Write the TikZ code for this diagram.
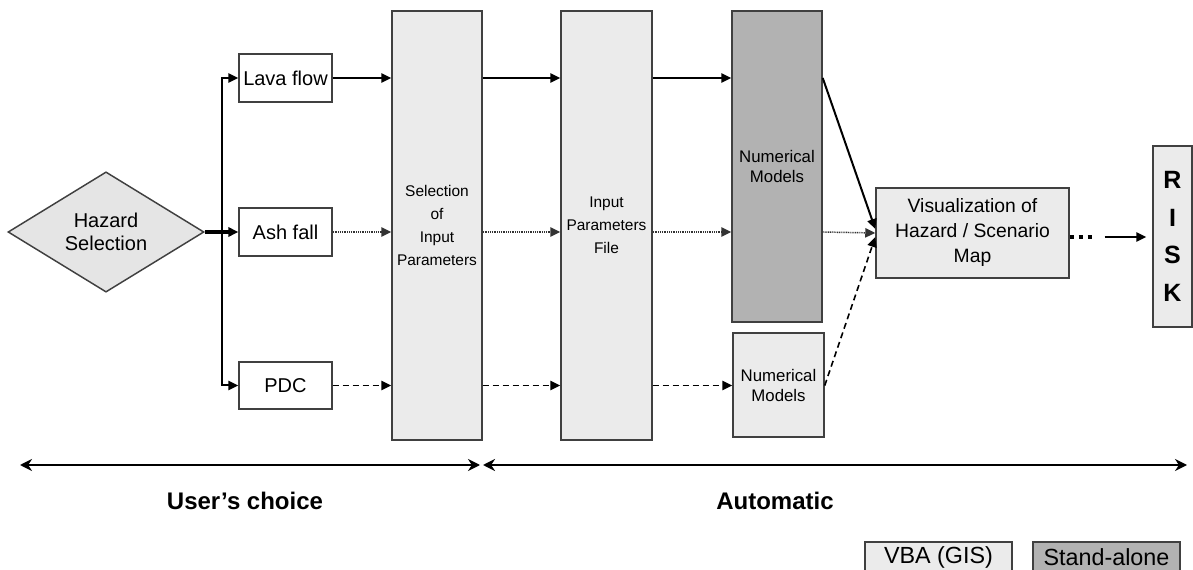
\documentclass[tikz,border=0pt]{standalone}
\usepackage{fontspec}
\setmainfont{Liberation Sans}
\usetikzlibrary{arrows.meta,shapes.geometric,calc}
\begin{document}
\begin{tikzpicture}[x=0.75pt,y=-0.75pt,
  bx/.style={draw=black!75, line width=1.1pt, fill=black!8, inner sep=0pt, align=center},
  wbx/.style={bx, fill=white},
  dbx/.style={bx, fill=black!30},
  txa/.style={font=\fontsize{15}{17.5}\selectfont},
  txb/.style={font=\fontsize{11.6}{17.1}\selectfont},
  txc/.style={font=\fontsize{12.6}{15}\selectfont},
  tip/.style={-{Triangle[length=7.5pt,width=7pt]}},
  solidln/.style={tip, line width=1.5pt},
  dotln/.style={tip, line width=1.1pt, draw=black!80, dash pattern=on 0.75pt off 0.6pt},
  dashln/.style={tip, line width=1.2pt, dash pattern=on 4.5pt off 3pt},
  bigarr/.style={{Stealth[length=9pt,width=9pt]}-{Stealth[length=9pt,width=9pt]}, line width=2.2pt},
  lbl/.style={font=\bfseries\fontsize{18}{20}\selectfont},
  legtx/.style={font=\fontsize{17.5}{20}\selectfont, minimum width=110.25pt, minimum height=22.5pt}
]
\clip (0,0) rectangle (1193,570);
\fill[white] (0,0) rectangle (1193,570);

% hazard selection
\node[diamond, draw=black!75, fill=black!10, line width=1.1pt, minimum width=147pt,
      minimum height=84.75pt, inner sep=0pt, align=center, txa] (haz) at (106,232) {Hazard\\Selection};

% hazard boxes
\node[wbx, txa, minimum width=69.75pt, minimum height=36pt] (lava) at (285.5,78) {Lava flow};
\node[wbx, txa, minimum width=69.75pt, minimum height=36pt] (ash) at (285.5,232) {Ash fall};
\node[wbx, txa, minimum width=69.75pt, minimum height=35.25pt] (pdc) at (285.5,385.5) {PDC};

% columns
\node[bx, txb, minimum width=67.5pt, minimum height=321.75pt] (sel) at (437,225.5) {Selection\\of\\Input\\Parameters};
\node[bx, txb, minimum width=68.25pt, minimum height=321.75pt] (ipf) at (606.5,225.5) {Input\\Parameters\\File};
\node[dbx, txc, minimum width=67.5pt, minimum height=233.25pt] (nm1) at (777,166.5) {Numerical\\Models};
\node[bx, txc, minimum width=68.25pt, minimum height=78pt] (nm2) at (778.5,385) {Numerical\\Models};

% visualization and risk
\node[bx, font=\fontsize{14.5}{18.75}\selectfont, minimum width=144.75pt, minimum height=67.5pt] (vis) at (972.5,233) {Visualization of\\Hazard / Scenario\\Map};
\node[bx, font=\bfseries\fontsize{18.75}{28.1}\selectfont, minimum width=29.25pt, minimum height=135.75pt] (risk) at (1172.5,236.5) {R\\I\\S\\K};

% branching from hazard selection
\coordinate (br) at ($(haz.east)!0.5!(ash.west)$);
\draw[tip, line width=2.3pt] (haz.east) -- (ash.west);
\draw[tip, line width=1.5pt] (br) |- (lava.west);
\draw[tip, line width=1.5pt] (br) |- (pdc.west);

% rows into selection
\draw[solidln] (lava.east) -- (lava.east -| sel.west);
\draw[dotln] (ash.east) -- (ash.east -| sel.west);
\draw[dashln] (pdc.east) -- (pdc.east -| sel.west);

% selection -> input parameters file
\draw[solidln] (sel.east |- lava.east) -- (ipf.west |- lava.east);
\draw[dotln] (sel.east |- ash.east) -- (ipf.west |- ash.east);
\draw[dashln] (sel.east |- pdc.east) -- (ipf.west |- pdc.east);

% input parameters file -> numerical models
\draw[solidln] (ipf.east |- lava.east) -- (nm1.west |- lava.east);
\draw[dotln] (ipf.east |- ash.east) -- (nm1.west |- ash.east);
\draw[dashln] (ipf.east |- pdc.east) -- (nm2.west |- pdc.east);

% numerical models -> visualization
\draw[solidln] (nm1.east |- lava.east) -- ($(vis.west)+(0,-4)$);
\draw[dotln] (nm1.east |- ash.east) -- (vis.west);
\draw[dashln] (nm2.east |- pdc.east) -- ($(vis.west)+(0,4)$);

% visualization -> risk
\coordinate (d0) at ($(vis.east)+(0,4)$);
\coordinate (d1) at ($(d0)+(25,0)$);
\coordinate (a0) at ($(d0)+(35,0)$);
\draw[line width=3pt, dash pattern=on 3pt off 3.75pt] (d0) -- (d1);
\draw[tip, line width=1.5pt, shorten >=4.5pt] (a0) -- (a0 -| risk.west);

% bottom ranges
\coordinate (b1) at (20,465);
\coordinate (b2) at (480,465);
\coordinate (b3) at (483,465);
\coordinate (b4) at (1187,465);
\draw[bigarr] (b1) -- (b2);
\draw[bigarr] (b3) -- (b4);
\node[lbl] (uc) at (245,501) {User’s choice};
\node[lbl] (au) at (775,501) {Automatic};

% legend
\node[bx, legtx] (leg1) at (938.5,557) {VBA (GIS)};
\node[dbx, legtx] (leg2) at (1106.5,557) {Stand-alone};
\end{tikzpicture}
\end{document}
